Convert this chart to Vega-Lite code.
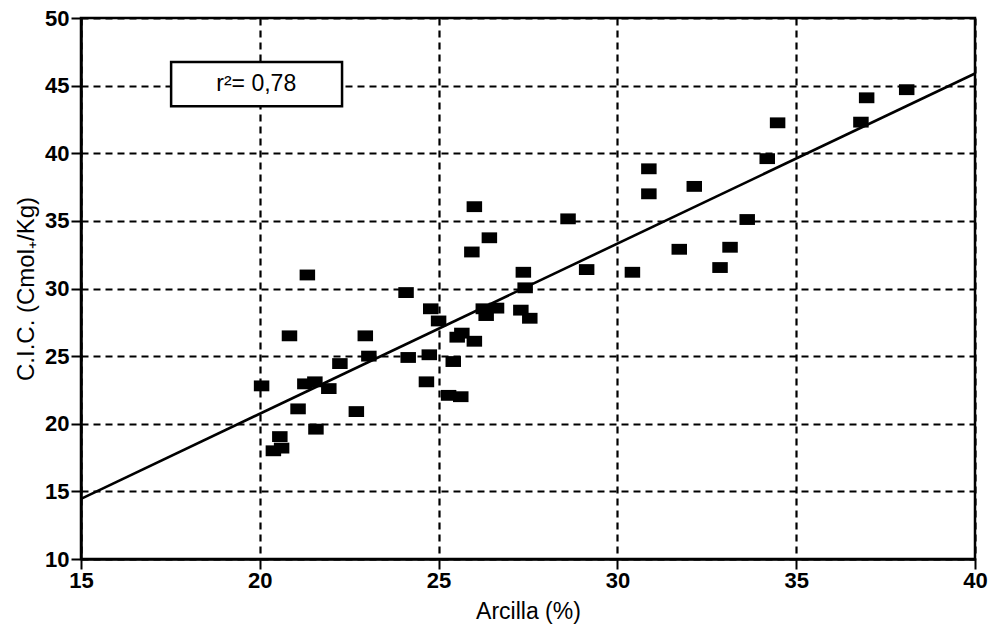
{
  "$schema": "https://vega.github.io/schema/vega-lite/v6.json",
  "width": 894,
  "height": 541,
  "autosize": {"type": "none"},
  "padding": {"left": 81, "top": 18, "right": 27, "bottom": 66},
  "background": "white",
  "config": {
    "view": {"stroke": "black", "strokeWidth": 2.5},
    "font": "Liberation Sans",
    "axis": {
      "domainColor": "black",
      "domainWidth": 2.5,
      "tickColor": "black",
      "tickWidth": 2,
      "tickSize": 10,
      "labelColor": "black",
      "labelFont": "Liberation Sans",
      "labelFontSize": 22,
      "labelFontWeight": "bold",
      "titleFont": "Liberation Sans",
      "titleFontWeight": "normal",
      "titleColor": "black",
      "gridColor": "black",
      "gridWidth": 2.2,
      "gridDash": [7, 5],
      "gridOpacity": 1
    }
  },
  "layer": [
    {
      "data": {
        "values": [
          {"arcilla": 20.05, "cic": 22.8},
          {"arcilla": 20.38, "cic": 18.0},
          {"arcilla": 20.56, "cic": 19.05},
          {"arcilla": 20.61, "cic": 18.2},
          {"arcilla": 20.83, "cic": 26.5},
          {"arcilla": 21.07, "cic": 21.1},
          {"arcilla": 21.26, "cic": 22.95},
          {"arcilla": 21.33, "cic": 31.0},
          {"arcilla": 21.54, "cic": 23.1},
          {"arcilla": 21.57, "cic": 19.6},
          {"arcilla": 21.93, "cic": 22.6},
          {"arcilla": 22.24, "cic": 24.45},
          {"arcilla": 22.7, "cic": 20.9},
          {"arcilla": 22.95, "cic": 26.5},
          {"arcilla": 23.05, "cic": 25.0},
          {"arcilla": 24.09, "cic": 29.7},
          {"arcilla": 24.15, "cic": 24.9},
          {"arcilla": 24.66, "cic": 23.1},
          {"arcilla": 24.78, "cic": 28.5},
          {"arcilla": 24.74, "cic": 25.1},
          {"arcilla": 25.0, "cic": 27.6},
          {"arcilla": 25.28, "cic": 22.1},
          {"arcilla": 25.41, "cic": 24.6},
          {"arcilla": 25.52, "cic": 26.4},
          {"arcilla": 25.62, "cic": 22.0},
          {"arcilla": 25.65, "cic": 26.7},
          {"arcilla": 25.93, "cic": 32.7},
          {"arcilla": 26.0, "cic": 36.05},
          {"arcilla": 26.0, "cic": 26.1},
          {"arcilla": 26.25, "cic": 28.5},
          {"arcilla": 26.33, "cic": 28.0},
          {"arcilla": 26.42, "cic": 33.75},
          {"arcilla": 26.62, "cic": 28.55},
          {"arcilla": 27.3, "cic": 28.4},
          {"arcilla": 27.37, "cic": 31.2},
          {"arcilla": 27.42, "cic": 30.05},
          {"arcilla": 27.55, "cic": 27.8},
          {"arcilla": 28.62, "cic": 35.15},
          {"arcilla": 29.14, "cic": 31.4},
          {"arcilla": 30.42, "cic": 31.2},
          {"arcilla": 30.88, "cic": 38.85},
          {"arcilla": 30.88, "cic": 37.0},
          {"arcilla": 31.73, "cic": 32.9},
          {"arcilla": 32.15, "cic": 37.55},
          {"arcilla": 32.87, "cic": 31.55},
          {"arcilla": 33.15, "cic": 33.05},
          {"arcilla": 33.63, "cic": 35.1},
          {"arcilla": 34.19, "cic": 39.6},
          {"arcilla": 34.48, "cic": 42.25},
          {"arcilla": 36.81, "cic": 42.3},
          {"arcilla": 36.97, "cic": 44.1},
          {"arcilla": 38.09, "cic": 44.7}
        ]
      },
      "mark": {
        "type": "point",
        "shape": "M-1,-0.7L1,-0.7L1,0.7L-1,0.7Z",
        "size": 240,
        "filled": true,
        "fill": "black",
        "stroke": null,
        "opacity": 1
      },
      "encoding": {
        "x": {
          "field": "arcilla",
          "type": "quantitative",
          "scale": {"domain": [15, 40], "nice": false, "zero": false},
          "axis": {"title": "Arcilla (%)", "titleFontSize": 23, "values": [15, 20, 25, 30, 35, 40], "labelPadding": 1, "titlePadding": 9, "labelFlush": false}
        },
        "y": {
          "field": "cic",
          "type": "quantitative",
          "scale": {"domain": [10, 50], "nice": false, "zero": false},
          "axis": {"title": "C.I.C. (Cmol₊/Kg)", "titleFontSize": 24, "values": [10, 15, 20, 25, 30, 35, 40, 45, 50], "labelPadding": 2, "titlePadding": 6, "labelFlush": false}
        }
      }
    },
    {
      "data": {"values": [{"arcilla": 15, "cic": 14.45}, {"arcilla": 40, "cic": 45.9}]},
      "mark": {"type": "line", "color": "black", "strokeWidth": 2.6},
      "encoding": {
        "x": {"field": "arcilla", "type": "quantitative"},
        "y": {"field": "cic", "type": "quantitative"}
      }
    },
    {
      "data": {"values": [{"label": "r²= 0,78"}]},
      "mark": {"type": "rect", "fill": "white", "stroke": "black", "strokeWidth": 2.5},
      "encoding": {
        "x": {"datum": 17.52, "type": "quantitative"},
        "x2": {"datum": 22.3},
        "y": {"datum": 46.74, "type": "quantitative"},
        "y2": {"datum": 43.48}
      }
    },
    {
      "data": {"values": [{"label": "r²= 0,78"}]},
      "mark": {"type": "text", "fontSize": 23, "color": "black", "align": "center", "baseline": "middle", "font": "Liberation Sans"},
      "encoding": {
        "x": {"datum": 19.9, "type": "quantitative"},
        "y": {"datum": 45.15, "type": "quantitative"},
        "text": {"field": "label"}
      }
    }
  ]
}
